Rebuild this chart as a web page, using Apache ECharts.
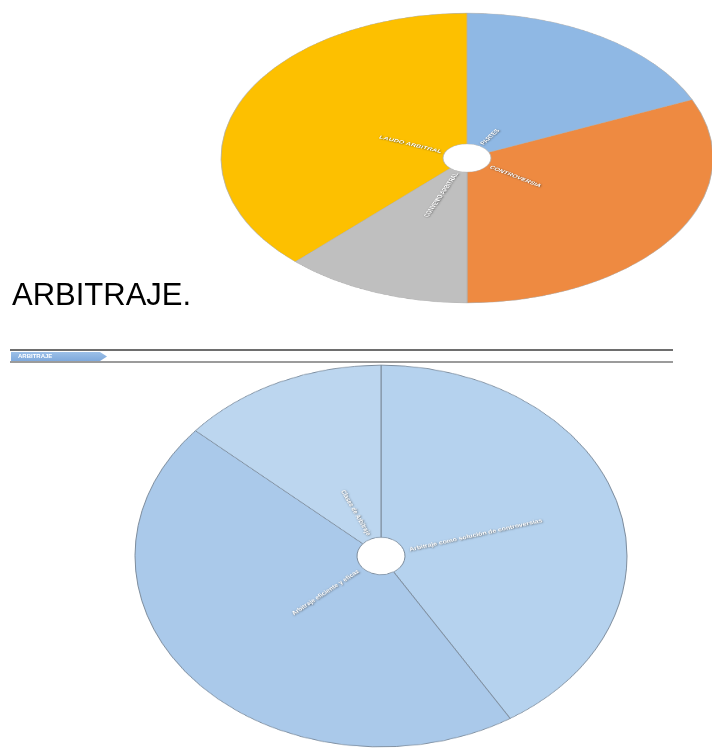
<!DOCTYPE html>
<html>
<head>
<meta charset="utf-8">
<script src="https://cdn.jsdelivr.net/npm/echarts@6/dist/echarts.min.js"></script>
<style>
  html, body { margin: 0; padding: 0; width: 712px; height: 749px; overflow: hidden; background: #ffffff; }
  #page { position: absolute; left: 0; top: 0; width: 712px; height: 749px; }
  .pie { position: absolute; width: 500px; height: 500px; transform-origin: 50% 50%; }
  /* the pies are drawn as circles and flattened into ellipses */
  #pieTop { left: 217px; top: -92px; transform: scaleY(0.589); }
  #pieBottom { left: 131px; top: 306px; transform: scaleY(0.776); }
</style>
</head>
<body>
<div id="page"></div>
<div id="pieTop" class="pie"></div>
<div id="pieBottom" class="pie"></div>
<script>
// Upper diagram: elements of arbitration
const topCategories = ['PARTES', 'CONTROVERSIA', 'CONVENIO ARBITRAL', 'LAUDO ARBITRAL'];
const topValues = [18.4, 31.6, 12.3, 37.7];
const topColors = ['#8fb8e4', '#ee8a41', '#bfbfbf', '#fdc000'];

// Lower diagram: arbitration section
const bottomCategories = ['Arbitraje como solución de controversias', 'Arbitraje eficiente y eficaz', 'Clases de Arbitraje'];
const bottomValues = [41.2, 45.2, 13.6];
const bottomColors = ['#b5d2ee', '#aac9ea', '#bcd6ef'];

// Section texts
const headingText = 'ARBITRAJE.';
const tabText = 'ARBITRAJE';

// Labels on the right half read outward, on the left half they read inward
function labelAligns(values) {
  const total = values.reduce((a, b) => a + b, 0);
  let acc = 0;
  return values.map(v => {
    const mid = (acc + v / 2) / total * 360;
    acc += v;
    return mid < 180 ? 'left' : 'right';
  });
}

function drawPie(el, cats, vals, colors, cfg) {
  const chart = echarts.init(el, null, { renderer: 'canvas' });
  const aligns = labelAligns(vals);
  chart.setOption({
    animation: false,
    series: [
      {
        type: 'pie',
        center: ['50%', '50%'],
        radius: [cfg.inner, 246],
        startAngle: 90,
        clockwise: true,
        silent: true,
        label: { show: false },
        labelLine: { show: false },
        itemStyle: { borderColor: cfg.border, borderWidth: cfg.borderWidth },
        data: cats.map((c, i) => ({ name: c, value: vals[i], itemStyle: { color: colors[i] } }))
      },
      {
        type: 'pie',
        center: ['50%', '50%'],
        radius: [cfg.labelR, cfg.labelR + 1],
        startAngle: 90,
        clockwise: true,
        silent: true,
        itemStyle: { color: 'rgba(0,0,0,0)', borderWidth: 0 },
        labelLine: { show: false },
        label: {
          show: true,
          position: 'inside',
          rotate: 'radial',
          formatter: '{b}',
          color: '#ffffff',
          fontFamily: 'Liberation Sans, Arial, sans-serif',
          fontWeight: 'bold',
          fontSize: cfg.fontSize,
          textShadowColor: 'rgba(40,40,40,0.75)',
          textShadowBlur: 2,
          textShadowOffsetX: 0.6,
          textShadowOffsetY: 0.6
        },
        labelLayout: function (p) {
          return { align: aligns[p.dataIndex], verticalAlign: 'middle' };
        },
        data: cats.map((c, i) => ({ name: c, value: vals[i] }))
      }
    ]
  });
}

drawPie(document.getElementById('pieTop'), topCategories, topValues, topColors,
  { inner: 24, labelR: 24, border: '#b0b0b0', borderWidth: 0.8, fontSize: 7.5 });
drawPie(document.getElementById('pieBottom'), bottomCategories, bottomValues, bottomColors,
  { inner: 24, labelR: 26, border: '#7d8c9c', borderWidth: 1, fontSize: 7 });

// Page heading and section tab
const page = echarts.init(document.getElementById('page'), null, { renderer: 'canvas' });
page.setOption({
  animation: false,
  graphic: [
    {
      type: 'text',
      left: 12, top: 281,
      style: {
        text: headingText,
        fill: '#000000',
        font: '31px "Liberation Sans", Arial, sans-serif'
      }
    },
    {
      type: 'line',
      shape: { x1: 10, y1: 350, x2: 673, y2: 350 },
      style: { stroke: '#6e6e6e', lineWidth: 2 }
    },
    {
      type: 'line',
      shape: { x1: 10, y1: 362, x2: 673, y2: 362 },
      style: { stroke: '#7a7a7a', lineWidth: 1.5 }
    },
    {
      type: 'polygon',
      shape: { points: [[11, 352], [100, 352], [107, 356.5], [100, 361], [11, 361]] },
      style: {
        fill: new echarts.graphic.LinearGradient(0, 0, 0, 1, [
          { offset: 0, color: '#9cc0e8' },
          { offset: 1, color: '#7fa9dc' }
        ])
      }
    },
    {
      type: 'text',
      x: 18, y: 356.5,
      style: {
        text: tabText,
        fill: '#ffffff',
        font: 'bold 6px "Liberation Sans", Arial, sans-serif',
        verticalAlign: 'middle'
      }
    }
  ]
});
</script>
</body>
</html>
